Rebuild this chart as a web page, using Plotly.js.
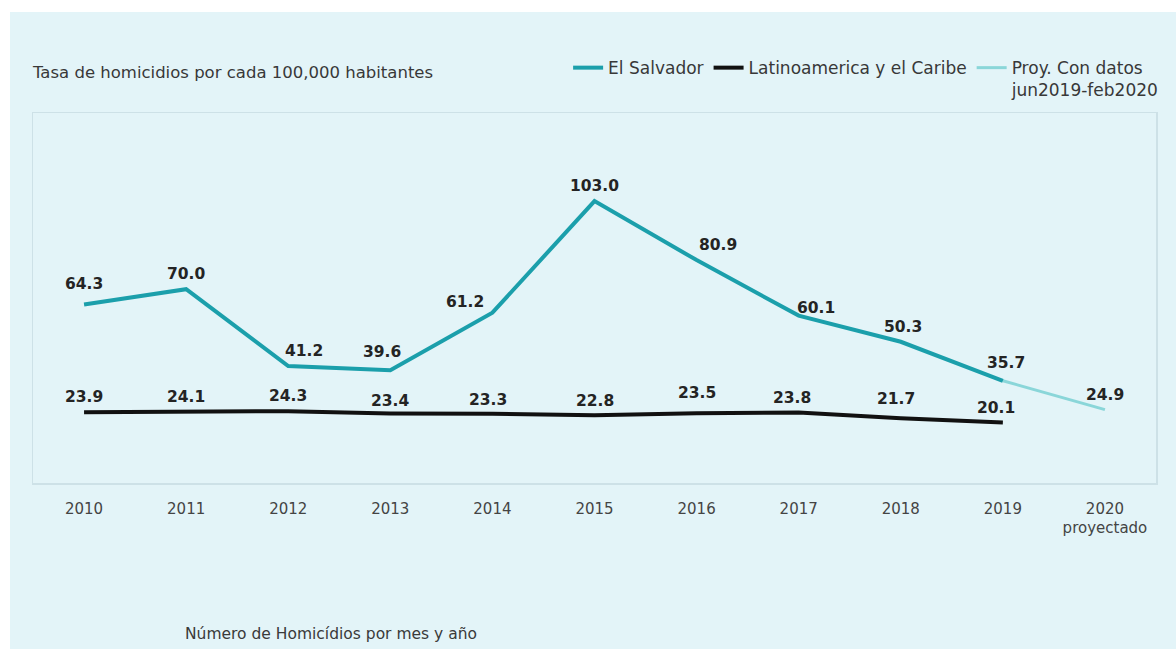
<!DOCTYPE html>
<html>
<head>
<meta charset="utf-8">
<script src="https://cdn.plot.ly/plotly-3.0.1.min.js"></script>
<style>
  html, body { margin: 0; padding: 0; background: #ffffff; width: 1176px; height: 649px; overflow: hidden; }
  #chart { position: absolute; left: 10px; top: 12px; width: 1166px; height: 637px; }
</style>
</head>
<body>
<div id="chart"></div>
<script>
// ---- data ----
const years = [2010, 2011, 2012, 2013, 2014, 2015, 2016, 2017, 2018, 2019, 2020];
const tickLabels = ['2010', '2011', '2012', '2013', '2014', '2015', '2016', '2017', '2018', '2019', '2020<br>proyectado'];
const salvadorYears = [2010, 2011, 2012, 2013, 2014, 2015, 2016, 2017, 2018, 2019];
const salvador = [64.3, 70.0, 41.2, 39.6, 61.2, 103.0, 80.9, 60.1, 50.3, 35.7];
const latamYears = [2010, 2011, 2012, 2013, 2014, 2015, 2016, 2017, 2018, 2019];
const latam = [23.9, 24.1, 24.3, 23.4, 23.3, 22.8, 23.5, 23.8, 21.7, 20.1];
const projYears = [2019, 2020];
const proj = [35.7, 24.9];
const seriesNames = ['El Salvador', 'Latinoamerica y el Caribe', 'Proy. Con datos<br>jun2019-feb2020'];
const chartTitle = 'Tasa de homicidios por cada 100,000 habitantes';
const footNote = 'Número de Homicídios por mes y año';

// ---- label placement (pixel offsets, style only) ----
const salvLabelShift = [[0, 20], [0, 15], [16, 15], [-8, 18], [-27, 11], [0, 15], [21, 15], [17, 8], [2, 15], [3, 18]];
const projLabelShift = [[0, 15]];
const latamLabelShift = [[0, 15], [0, 15], [0, 15], [0, 13], [-4, 14], [0, 14], [0, 20], [-7, 15], [-5, 19], [-7, 14]];

const TEAL = '#1b9fab';
const LIGHT = '#8ad6d9';
const BLACK = '#111111';
const TXT = 'DejaVu Sans, Verdana, sans-serif';
const labelFont = { family: TXT, size: 15.5, color: '#242424', weight: 'bold' };

const traces = [
  { x: latamYears, y: latam, name: seriesNames[1], mode: 'lines', line: { color: BLACK, width: 4 }, hoverinfo: 'x+y', legendrank: 2 },
  { x: projYears, y: proj, name: seriesNames[2], mode: 'lines', line: { color: LIGHT, width: 3 }, hoverinfo: 'x+y', legendrank: 3 },
  { x: salvadorYears, y: salvador, name: seriesNames[0], mode: 'lines', line: { color: TEAL, width: 4 }, hoverinfo: 'x+y', legendrank: 1 }
];

const annotations = [];
function addLabels(xs, ys, shifts, skipFirst) {
  xs.forEach((x, i) => {
    if (skipFirst && i === 0) return;
    const s = shifts[skipFirst ? i - 1 : i];
    annotations.push({ x: x, y: ys[i], xref: 'x', yref: 'y', text: ys[i].toFixed(1), showarrow: false,
      xshift: s[0], yshift: s[1], font: labelFont });
  });
}
addLabels(salvadorYears, salvador, salvLabelShift, false);
addLabels(projYears, proj, projLabelShift, true);
addLabels(latamYears, latam, latamLabelShift, false);
annotations.push({ text: footNote, xref: 'paper', yref: 'paper', x: 0.1336, y: -0.408, xanchor: 'left', yanchor: 'middle',
  showarrow: false, font: { family: TXT, size: 15.5, color: '#3a3a3a' } });

const layout = {
  width: 1166, height: 637,
  margin: { l: 23, r: 13, t: 101, b: 166 },
  paper_bgcolor: '#e3f4f8',
  plot_bgcolor: '#e3f4f8',
  title: { text: chartTitle, xref: 'paper', x: 0, xanchor: 'left', yref: 'container', y: 0.906, yanchor: 'middle',
    font: { family: TXT, size: 16.5, color: '#383838' } },
  showlegend: true,
  legend: { orientation: 'h', traceorder: 'normal', x: 0.4765, xanchor: 'left', xref: 'paper', y: 1.17, yanchor: 'top',
    font: { family: TXT, size: 17, color: '#383838' }, bgcolor: 'rgba(0,0,0,0)', valign: 'top', itemwidth: 30 },
  xaxis: { range: [2009.5, 2020.5], tickmode: 'array', tickvals: years, ticktext: tickLabels, showgrid: false, zeroline: false,
    showline: true, mirror: true, linecolor: '#cde1e7', linewidth: 1.5, ticks: '', ticklabelstandoff: 11,
    tickfont: { family: TXT, size: 15, color: '#444444' } },
  yaxis: { range: [-2.6, 136], showticklabels: false, showgrid: false, zeroline: false,
    showline: true, mirror: true, linecolor: '#cde1e7', linewidth: 1.5, ticks: '' },
  annotations: annotations
};

Plotly.newPlot('chart', traces, layout, { displayModeBar: false, staticPlot: true });
</script>
</body>
</html>
